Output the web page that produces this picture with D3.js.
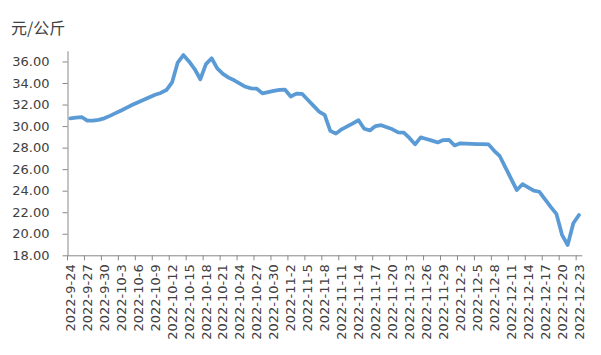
<!DOCTYPE html>
<html><head><meta charset="utf-8">
<script src="https://cdn.jsdelivr.net/npm/d3@7"></script>
<style>
html,body{margin:0;padding:0;background:#fff;}
svg{display:block;}
</style></head>
<body>
<svg id="chart" width="601" height="355"></svg>
<script>
const categories = [
"2022-9-24","2022-9-25","2022-9-26","2022-9-27","2022-9-28","2022-9-29","2022-9-30",
"2022-10-1","2022-10-2","2022-10-3","2022-10-4","2022-10-5","2022-10-6","2022-10-7","2022-10-8","2022-10-9","2022-10-10",
"2022-10-11","2022-10-12","2022-10-13","2022-10-14","2022-10-15","2022-10-16","2022-10-17","2022-10-18","2022-10-19","2022-10-20",
"2022-10-21","2022-10-22","2022-10-23","2022-10-24","2022-10-25","2022-10-26","2022-10-27","2022-10-28","2022-10-29","2022-10-30","2022-10-31",
"2022-11-1","2022-11-2","2022-11-3","2022-11-4","2022-11-5","2022-11-6","2022-11-7","2022-11-8","2022-11-9","2022-11-10",
"2022-11-11","2022-11-12","2022-11-13","2022-11-14","2022-11-15","2022-11-16","2022-11-17","2022-11-18","2022-11-19","2022-11-20",
"2022-11-21","2022-11-22","2022-11-23","2022-11-24","2022-11-25","2022-11-26","2022-11-27","2022-11-28","2022-11-29","2022-11-30",
"2022-12-1","2022-12-2","2022-12-3","2022-12-4","2022-12-5","2022-12-6","2022-12-7","2022-12-8","2022-12-9","2022-12-10",
"2022-12-11","2022-12-12","2022-12-13","2022-12-14","2022-12-15","2022-12-16","2022-12-17","2022-12-18","2022-12-19","2022-12-20",
"2022-12-21","2022-12-22","2022-12-23"];

const prices = [
30.72,30.78,30.84,30.50,30.50,30.58,30.72,30.95,31.20,31.45,
31.72,31.98,32.22,32.45,32.68,32.90,33.08,33.35,34.05,35.90,
36.60,36.00,35.30,34.35,35.75,36.30,35.35,34.85,34.50,34.25,
33.95,33.65,33.50,33.47,33.04,33.15,33.27,33.37,33.38,32.75,
33.02,33.00,32.45,31.90,31.35,31.05,29.55,29.30,29.70,29.98,
30.25,30.55,29.75,29.60,30.00,30.08,29.90,29.70,29.42,29.40,
28.90,28.30,28.95,28.80,28.65,28.48,28.70,28.72,28.20,28.40,
28.38,28.35,28.33,28.33,28.30,27.70,27.20,26.15,25.10,24.06,
24.60,24.30,24.00,23.90,23.20,22.50,21.85,19.90,18.96,20.97,21.74];

const yTicks = [18,20,22,24,26,28,30,32,34,36];
const unitLabel = "元/公斤";

const svg = d3.select("#chart");
const plotLeft = 67.5, plotRight = 581.8, plotTop = 50.7, plotBottom = 255.3;

const x = d3.scaleBand().domain(categories).range([plotLeft, plotRight]).padding(0);
const y = d3.scaleLinear().domain([18, 37]).range([plotBottom, plotTop]);
const bw = x.bandwidth();

const axisColor = "#888";
const textColor = "#404040";

// Y axis
const yAxis = svg.append("g").attr("transform", `translate(${plotLeft},0)`)
  .call(d3.axisLeft(y).tickValues(yTicks).tickFormat(d3.format(".2f")).tickSize(5).tickSizeOuter(0).tickPadding(13));
yAxis.select(".domain").attr("stroke", axisColor).attr("stroke-width", 1);
yAxis.selectAll(".tick line").attr("stroke", axisColor);
yAxis.selectAll(".tick text").attr("fill", textColor)
  .style("font-family", "'DejaVu Sans', sans-serif").style("font-size", "13px");

// X axis
const labelCats = categories.filter((d, i) => i % 3 === 0);
const xAxis = svg.append("g").attr("transform", `translate(0,${plotBottom})`)
  .call(d3.axisBottom(x).tickValues(labelCats).tickSize(5).tickSizeOuter(0).tickPadding(3));
xAxis.select(".domain").attr("stroke", axisColor).attr("stroke-width", 1);
xAxis.selectAll(".tick line").attr("stroke", axisColor).attr("transform", `translate(${-bw/2},0)`);
xAxis.selectAll(".tick text")
  .attr("fill", textColor)
  .style("font-family", "'DejaVu Sans', sans-serif").style("font-size", "13px")
  .attr("text-anchor", "end")
  .attr("transform", "rotate(-90)")
  .attr("x", -9).attr("y", 0).attr("dy", "0.35em");

// Unit label
svg.append("text").attr("x", 11).attr("y", 34)
  .attr("fill", textColor)
  .style("font-family", "'Noto Sans CJK SC', sans-serif").style("font-size", "16px")
  .text(unitLabel);

// Line
const line = d3.line()
  .x((d, i) => x(categories[i]) + bw / 2)
  .y(d => y(d));
svg.append("path").datum(prices)
  .attr("fill", "none")
  .attr("stroke", "#5B9BD5")
  .attr("stroke-width", 3.75)
  .attr("stroke-linejoin", "round")
  .attr("stroke-linecap", "round")
  .attr("d", line);
</script>
</body></html>
